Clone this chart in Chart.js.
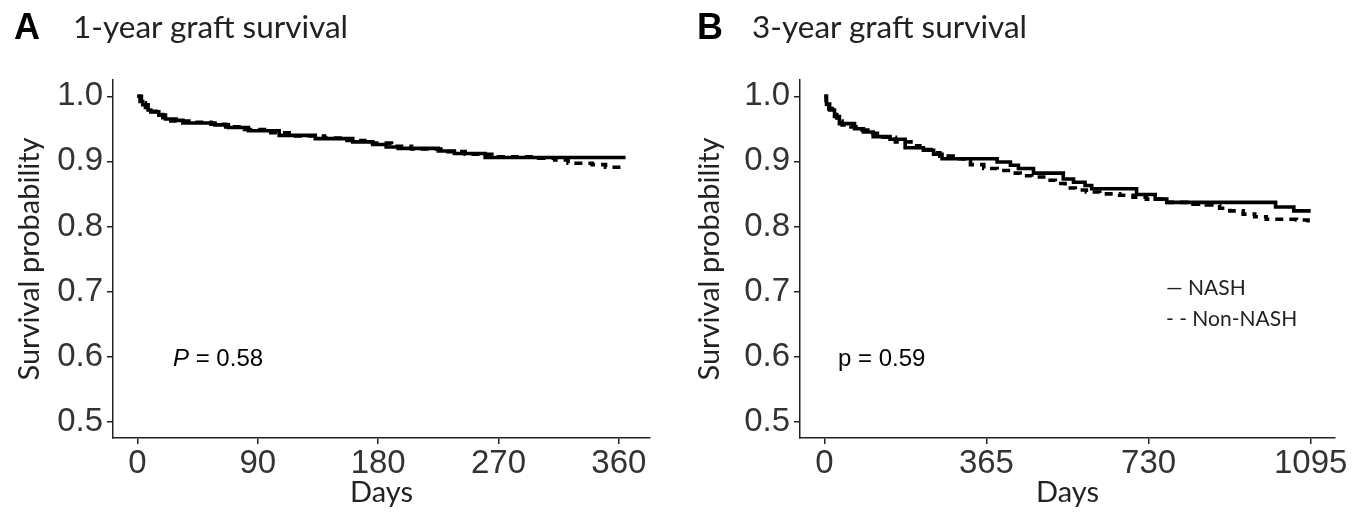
<!DOCTYPE html>
<html>
<head>
<meta charset="utf-8">
<title>Graft survival</title>
<script src="https://cdn.jsdelivr.net/npm/chart.js@4.4.0/dist/chart.umd.min.js"></script>
<style>
  body { margin: 0; background: #fff; }
  #page { position: relative; width: 1361px; height: 514px; overflow: hidden; }
  .panel { position: absolute; top: 0; height: 514px; }
  .tag { position: absolute; top: 9px; font: bold 36px "Liberation Sans", Arial, sans-serif; line-height: 36px; color: #000; }
  .ttl { position: absolute; top: 11px; font: 31.5px Lato, sans-serif; line-height: 31.5px; color: #222; }
  .pval { position: absolute; top: 346px; font: 24px "Liberation Sans", Arial, sans-serif; line-height: 24px; color: #000; }
  .leg { position: absolute; left: 1166px; font: 21px Lato, sans-serif; line-height: 21px; color: #222; }
</style>
</head>
<body>
<div id="page">
  <div class="panel" style="left:0;width:680px"><canvas id="chartA"></canvas></div>
  <div class="panel" style="left:680px;width:681px"><canvas id="chartB"></canvas></div>

  <div class="tag" style="left:14px">A</div>
  <div class="ttl" style="left:73px">1-year graft survival</div>
  <div class="tag" style="left:697px">B</div>
  <div class="ttl" style="left:752px">3-year graft survival</div>

  <div class="pval" style="left:173px"><i>P</i> = 0.58</div>
  <div class="pval" style="left:838px">p = 0.59</div>

  <div class="leg" style="top:276px">— NASH</div>
  <div class="leg" style="top:307px">- - Non-NASH</div>
</div>

<script>
// 1-year panel (step points: day of event, survival after it)
var oneYrNashDays = [0, 2, 4, 8, 10, 16, 21, 29, 34, 58, 68, 83, 106, 133, 161, 176, 186, 195, 225, 237, 260, 365];
var oneYrNash     = [1.0, 0.992, 0.987, 0.979, 0.976, 0.971, 0.965, 0.963, 0.959, 0.956, 0.952, 0.947, 0.940, 0.935, 0.930, 0.926, 0.922, 0.920, 0.916, 0.912, 0.906, 0.906];
var oneYrNonDays  = [0, 3, 6, 9, 14, 19, 25, 40, 55, 66, 80, 95, 115, 140, 155, 170, 190, 205, 230, 245, 265, 300, 312, 322, 340, 350, 365];
var oneYrNon      = [1.0, 0.990, 0.983, 0.977, 0.972, 0.967, 0.962, 0.960, 0.957, 0.953, 0.949, 0.944, 0.939, 0.936, 0.932, 0.928, 0.923, 0.919, 0.915, 0.911, 0.907, 0.905, 0.902, 0.897, 0.895, 0.891, 0.891];

// 3-year panel
var threeYrNashDays = [0, 5, 12, 23, 34, 68, 88, 110, 148, 182, 223, 246, 265, 389, 419, 437, 471, 538, 561, 587, 602, 703, 745, 771, 1016, 1057, 1095];
var threeYrNash     = [1.0, 0.988, 0.979, 0.969, 0.958, 0.950, 0.945, 0.938, 0.934, 0.921, 0.917, 0.911, 0.904, 0.899, 0.894, 0.889, 0.882, 0.873, 0.868, 0.863, 0.858, 0.849, 0.842, 0.837, 0.830, 0.824, 0.824];
var threeYrNonDays  = [0, 4, 10, 18, 28, 40, 60, 78, 98, 125, 160, 195, 215, 240, 260, 290, 314, 329, 359, 389, 419, 441, 467, 494, 520, 542, 565, 590, 620, 665, 695, 725, 760, 830, 860, 890, 913, 943, 969, 995, 1063, 1089, 1095];
var threeYrNon      = [1.0, 0.989, 0.981, 0.972, 0.962, 0.956, 0.953, 0.948, 0.943, 0.937, 0.930, 0.924, 0.918, 0.913, 0.908, 0.904, 0.900, 0.895, 0.889, 0.886, 0.882, 0.878, 0.876, 0.871, 0.866, 0.859, 0.856, 0.853, 0.850, 0.848, 0.845, 0.842, 0.837, 0.834, 0.833, 0.828, 0.824, 0.819, 0.815, 0.811, 0.810, 0.805, 0.805];

var yTicks = [0.5, 0.6, 0.7, 0.8, 0.9, 1.0];
var xTicksA = [0, 90, 180, 270, 360];
var xTicksB = [0, 365, 730, 1095];

function pts(days, vals) {
  return days.map(function(d, i) { return { x: d, y: vals[i] }; });
}

var tickFont = { family: '"Liberation Sans", Arial, sans-serif', size: 33 };
var titleFont = { family: 'Lato, sans-serif', size: 29 };

function makeChart(id, nashDays, nash, nonDays, non, xTicks, xmin, xmax, yAxisW, padRight) {
  var el = document.getElementById(id);
  el.width = el.parentNode.clientWidth;
  el.height = 514;
  return new Chart(el, {
    type: 'line',
    data: {
      datasets: [{
        label: 'NASH',
        data: pts(nashDays, nash),
        borderColor: '#000',
        borderWidth: 3.6,
        stepped: true,
        pointRadius: 0,
        fill: false
      }, {
        label: 'Non-NASH',
        data: pts(nonDays, non),
        borderColor: '#000',
        borderWidth: 3.6,
        borderDash: [8, 6],
        stepped: true,
        pointRadius: 0,
        fill: false
      }]
    },
    options: {
      responsive: false,
      animation: false,
      layout: { padding: { top: 80, right: padRight, left: 0, bottom: 0 } },
      plugins: { legend: { display: false }, tooltip: { enabled: false } },
      scales: {
        x: {
          type: 'linear',
          min: xmin,
          max: xmax,
          afterBuildTicks: function(s) { s.ticks = xTicks.map(function(v) { return { value: v }; }); },
          afterFit: function(s) { s.height = 76; },
          grid: { drawOnChartArea: false, drawTicks: true, tickLength: 6, color: '#222', lineWidth: 1.5 },
          border: { display: true, color: '#222', width: 1.5 },
          ticks: { color: '#333', font: tickFont, padding: 0, maxRotation: 0, callback: function(v) { return String(v); } },
          title: { display: true, text: 'Days', color: '#222', font: titleFont, padding: { top: 0, bottom: 4 } }
        },
        y: {
          min: 0.475,
          max: 1.025,
          afterBuildTicks: function(s) { s.ticks = yTicks.map(function(v) { return { value: v }; }); },
          afterFit: function(s) { s.width = yAxisW; },
          grid: { drawOnChartArea: false, drawTicks: true, tickLength: 6, color: '#222', lineWidth: 1.5 },
          border: { display: true, color: '#222', width: 1.5 },
          ticks: { color: '#333', font: tickFont, padding: 4, callback: function(v) { return v.toFixed(1); } },
          title: { display: true, text: 'Survival probability', color: '#222', font: titleFont, padding: { top: 12, bottom: 0 } }
        }
      }
    }
  });
}

makeChart('chartA', oneYrNashDays, oneYrNash, oneYrNonDays, oneYrNon, xTicksA, -18.25, 383.25, 113, 30);
makeChart('chartB', threeYrNashDays, threeYrNash, threeYrNonDays, threeYrNon, xTicksB, -54.75, 1149.75, 120, 26);
</script>
</body>
</html>
